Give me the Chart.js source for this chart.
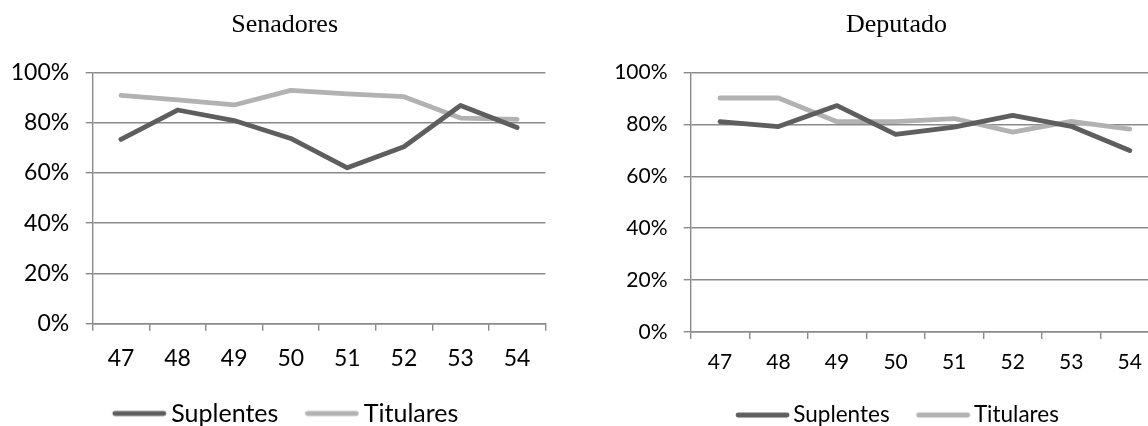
<!DOCTYPE html>
<html>
<head>
<meta charset="utf-8">
<script src="https://cdn.jsdelivr.net/npm/chart.js@4.4.1/dist/chart.umd.min.js"></script>
<style>
  html, body { margin: 0; padding: 0; background: #fff; overflow: hidden; width: 1148px; height: 426px; }
  .panel { position: absolute; top: 0; }
  #senadoresBox { left: 0; width: 574px; height: 436px; }
  #deputadoBox { left: 574px; width: 645px; height: 436.25px; }
</style>
</head>
<body>
<div class="panel" id="senadoresBox"><canvas id="senadores"></canvas></div>
<div class="panel" id="deputadoBox"><canvas id="deputado"></canvas></div>
<script>
// Legislatures on the x axis
const categories = ['47', '48', '49', '50', '51', '52', '53', '54'];

// Senado (%)
const senadoresSuplentes = [73.3, 85.0, 80.8, 73.7, 62.0, 70.4, 86.8, 78.0];
const senadoresTitulares = [90.8, 89.0, 87.0, 92.8, 91.4, 90.3, 81.8, 81.3];

// Câmara (%)
const deputadoSuplentes = [81.0, 79.1, 87.2, 76.1, 78.9, 83.4, 79.2, 69.9];
const deputadoTitulares = [90.1, 90.1, 81.0, 81.0, 82.2, 77.0, 81.1, 78.1];

// Percentage axis ticks
const yTickValues = [0, 20, 40, 60, 80, 100];

const DARK = '#5e5e5e';
const LIGHT = '#b2b2b2';
const GRID = '#8a8a8a';
const LINE_W = 4.8;
const SANS = "Lato, 'Open Sans', sans-serif";
const SERIF = "'Times New Roman', 'Liberation Serif', serif";

// Legend key: a thick round-capped stroke that runs up close to the label text
function legendMarker(color) {
  const c = document.createElement('canvas');
  c.width = 64;
  c.height = 8;
  const g = c.getContext('2d');
  g.strokeStyle = color;
  g.lineWidth = LINE_W;
  g.lineCap = 'round';
  g.beginPath();
  g.moveTo(12, 4);
  g.lineTo(61, 4);
  g.stroke();
  return c;
}

function buildChart(canvasId, titleText, suplentes, titulares, s) {
  const markers = [legendMarker(DARK), legendMarker(LIGHT)];
  return new Chart(document.getElementById(canvasId), {
    type: 'line',
    data: {
      labels: categories,
      datasets: [
        { label: 'Suplentes', data: suplentes, borderColor: DARK, backgroundColor: DARK, yAxisID: 'y' },
        { label: 'Titulares', data: titulares, borderColor: LIGHT, backgroundColor: LIGHT, yAxisID: 'y' }
      ]
    },
    options: {
      responsive: true,
      maintainAspectRatio: false,
      animation: false,
      devicePixelRatio: 1,
      layout: { padding: { left: 0, right: s.padRight, top: 0, bottom: 0 } },
      elements: {
        line: { borderWidth: LINE_W, tension: 0, borderCapStyle: 'round', borderJoinStyle: 'round', fill: false },
        point: { radius: 0, hoverRadius: 0 }
      },
      plugins: {
        title: {
          display: true,
          text: titleText,
          color: '#000',
          font: { family: SERIF, size: 26, weight: 'normal', lineHeight: 1.2 },
          padding: { top: 9.8, bottom: 31.3 }
        },
        legend: {
          position: 'bottom',
          labels: {
            usePointStyle: true,
            pointStyle: 'line',
            pointStyleWidth: 48,
            color: '#000',
            padding: 25,
            font: { family: SANS, size: s.legendFont },
            generateLabels(chart) {
              const items = Chart.defaults.plugins.legend.labels.generateLabels(chart);
              items.forEach(item => {
                item.pointStyle = markers[item.datasetIndex];
                item.lineWidth = LINE_W;
              });
              return items;
            }
          }
        },
        tooltip: { enabled: false }
      },
      scales: {
        x: {
          type: 'category',
          offset: true,
          grid: {
            display: true, offset: true, drawOnChartArea: false, drawTicks: true,
            tickLength: 7, color: GRID, lineWidth: 1.4
          },
          border: { display: true, color: GRID, width: 1.4 },
          ticks: {
            color: '#000', padding: s.xPad, maxRotation: 0, autoSkip: false,
            font: { family: SANS, size: s.tickFont, lineHeight: 1.2 }
          },
          afterFit(scale) { scale.height = s.xAxisH; }
        },
        y: {
          position: 'left',
          min: 0,
          max: 100,
          afterBuildTicks(scale) { scale.ticks = yTickValues.map(v => ({ value: v })); },
          grid: { color: GRID, lineWidth: 1.4, drawTicks: true, tickLength: 7 },
          border: { display: true, color: GRID, width: 1.4 },
          ticks: {
            color: '#000', padding: s.yPad,
            font: { family: SANS, size: s.tickFont },
            callback: v => v + '%'
          },
          afterFit(scale) { scale.width = s.yAxisW; }
        },
        // empty right-hand margin of the plot
        margin: {
          position: 'right',
          display: true,
          grid: { display: false, drawTicks: false },
          border: { display: false },
          ticks: { display: false },
          afterFit(scale) { scale.width = s.rightW; }
        }
      }
    }
  });
}

function draw() {
  buildChart('senadores', 'Senadores', senadoresSuplentes, senadoresTitulares, {
    padRight: 4.8, rightW: 23.8, yAxisW: 92.7, xAxisH: 52.3,
    tickFont: 23, legendFont: 25, xPad: 13.8, yPad: 16.5
  });
  buildChart('deputado', 'Deputado', deputadoSuplentes, deputadoTitulares, {
    padRight: 0, rightW: 60, yAxisW: 116.7, xAxisH: 46.75,
    tickFont: 21, legendFont: 22.5, xPad: 10.9, yPad: 16.2
  });
}

Promise.all([
  document.fonts.load("23px Lato"),
  document.fonts.load("26px 'Liberation Serif'")
]).then(draw, draw);
</script>
</body>
</html>
